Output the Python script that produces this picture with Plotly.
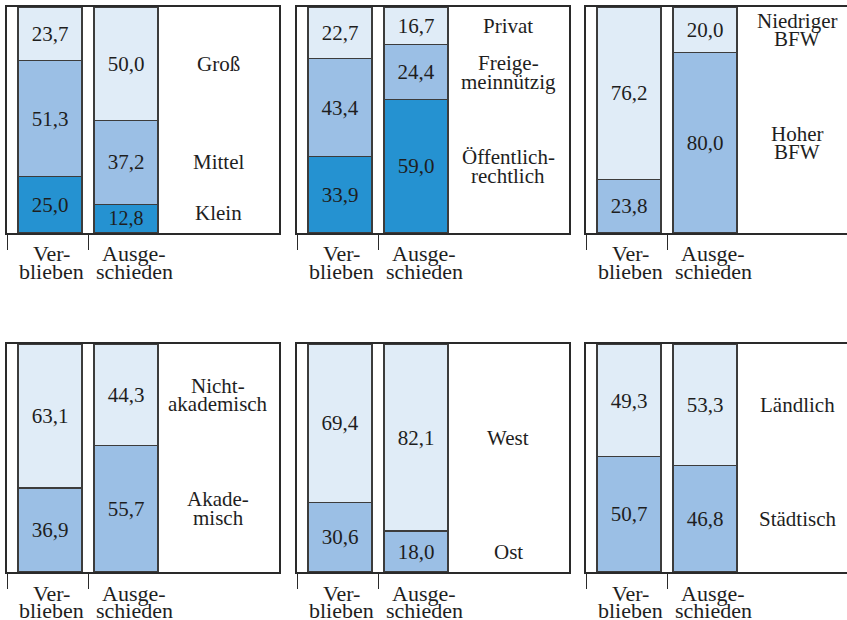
import plotly.graph_objects as go

# ---------------- data ----------------
groups = ["Verblieben", "Ausgeschieden"]
group_lines = [["Ver-", "blieben"], ["Ausge-", "schieden"]]

# segments listed bottom -> top
p1_cats = [["Klein"], ["Mittel"], ["Groß"]]
p1_verblieben = [25.0, 51.3, 23.7]
p1_ausgeschieden = [12.8, 37.2, 50.0]

p2_cats = [["Öffentlich-", "rechtlich"], ["Freige-", "meinnützig"], ["Privat"]]
p2_verblieben = [33.9, 43.4, 22.7]
p2_ausgeschieden = [59.0, 24.4, 16.7]

p3_cats = [["Hoher", "BFW"], ["Niedriger", "BFW"]]
p3_verblieben = [23.8, 76.2]
p3_ausgeschieden = [80.0, 20.0]

p4_cats = [["Akade-", "misch"], ["Nicht-", "akademisch"]]
p4_verblieben = [36.9, 63.1]
p4_ausgeschieden = [55.7, 44.3]

p5_cats = [["Ost"], ["West"]]
p5_verblieben = [30.6, 69.4]
p5_ausgeschieden = [18.0, 82.1]

p6_cats = [["Städtisch"], ["Ländlich"]]
p6_verblieben = [50.7, 49.3]
p6_ausgeschieden = [46.8, 53.3]

panels = [
    (p1_cats, p1_verblieben, p1_ausgeschieden),
    (p2_cats, p2_verblieben, p2_ausgeschieden),
    (p3_cats, p3_verblieben, p3_ausgeschieden),
    (p4_cats, p4_verblieben, p4_ausgeschieden),
    (p5_cats, p5_verblieben, p5_ausgeschieden),
    (p6_cats, p6_verblieben, p6_ausgeschieden),
]

# ---------------- styling / layout ----------------
W, H = 847, 620
FONT = "Liberation Serif, serif"
TXT = "#1e1e1e"
LIGHT, MID, DARK = "#e0ecf7", "#9bbfe5", "#2592d1"
col_px = [(7, 279), (297, 569), (586, 858)]
row_px = [(7, 233), (344, 572)]
BAR_X = [43, 119]
BAR_W = 64
LABEL_X = 211
XLAB_X = [44, 127]

fig = go.Figure()
layout = dict(width=W, height=H, margin=dict(l=0, r=0, t=0, b=0),
              paper_bgcolor="white", plot_bgcolor="white",
              barmode="stack", showlegend=False,
              font=dict(family=FONT, color=TXT))
annotations = []

for k, (cats, verb, ausg) in enumerate(panels):
    r, c = divmod(k, 3)
    x0p, x1p = col_px[c]
    y0p, y1p = row_px[r]
    x_end = min(x1p, W)
    xa = "x" if k == 0 else f"x{k+1}"
    ya = "y" if k == 0 else f"y{k+1}"
    xkey = "xaxis" if k == 0 else f"xaxis{k+1}"
    ykey = "yaxis" if k == 0 else f"yaxis{k+1}"
    layout[xkey] = dict(domain=[x0p / W, x_end / W], range=[0, x_end - x0p],
                        anchor=ya, showgrid=False, zeroline=False,
                        showline=True, mirror=True, linecolor="#2a2a2a", linewidth=1.5,
                        tickmode="array", tickvals=[0, 81], ticks="outside",
                        ticklen=15, tickwidth=1.2, tickcolor="#2a2a2a",
                        showticklabels=False, fixedrange=True)
    layout[ykey] = dict(domain=[1 - y1p / H, 1 - y0p / H], range=[0, 100.2],
                        anchor=xa, showgrid=False, zeroline=False,
                        showline=True, mirror=(c < 2), linecolor="#2a2a2a", linewidth=1.5,
                        showticklabels=False, ticks="", fixedrange=True)
    colors = [DARK, MID, LIGHT] if len(cats) == 3 else [MID, LIGHT]
    cum = 0.0
    for i, cat in enumerate(cats):
        vals = [verb[i], ausg[i]]
        fig.add_trace(go.Bar(
            x=BAR_X, y=vals, width=BAR_W, xaxis=xa, yaxis=ya,
            marker=dict(color=colors[i], line=dict(color="#3c3c3c", width=1.1)),
            text=[f"{v:.1f}".replace(".", ",") for v in vals],
            textposition="inside", insidetextanchor="middle", textangle=0,
            textfont=dict(family=FONT, size=21, color=TXT),
            cliponaxis=False, hoverinfo="skip"))
        # category label next to the "Ausgeschieden" segment
        center = cum + ausg[i] / 2.0
        center = max(center, 9.0)
        cum += ausg[i]
        n = len(cat)
        for j, line in enumerate(cat):
            off = (j - (n - 1) / 2.0) * 18.5
            annotations.append(dict(x=LABEL_X, y=center, xref=xa, yref=ya,
                                    text=line, showarrow=False, yshift=-off,
                                    xanchor="center", yanchor="middle",
                                    font=dict(family=FONT, size=21, color=TXT)))
    for g in range(2):
        for j, line in enumerate(group_lines[g]):
            annotations.append(dict(x=XLAB_X[g], y=0, xref=xa, yref=f"{ya} domain",
                                    text=line, showarrow=False,
                                    yshift=-21 - 17.5 * j,
                                    xanchor="center", yanchor="middle",
                                    font=dict(family=FONT, size=22, color=TXT)))

layout["annotations"] = annotations
fig.update_layout(**layout)
fig.write_html("out.html", config={"displayModeBar": False},
               post_script="document.body.style.margin='0';document.body.style.overflow='hidden';")
